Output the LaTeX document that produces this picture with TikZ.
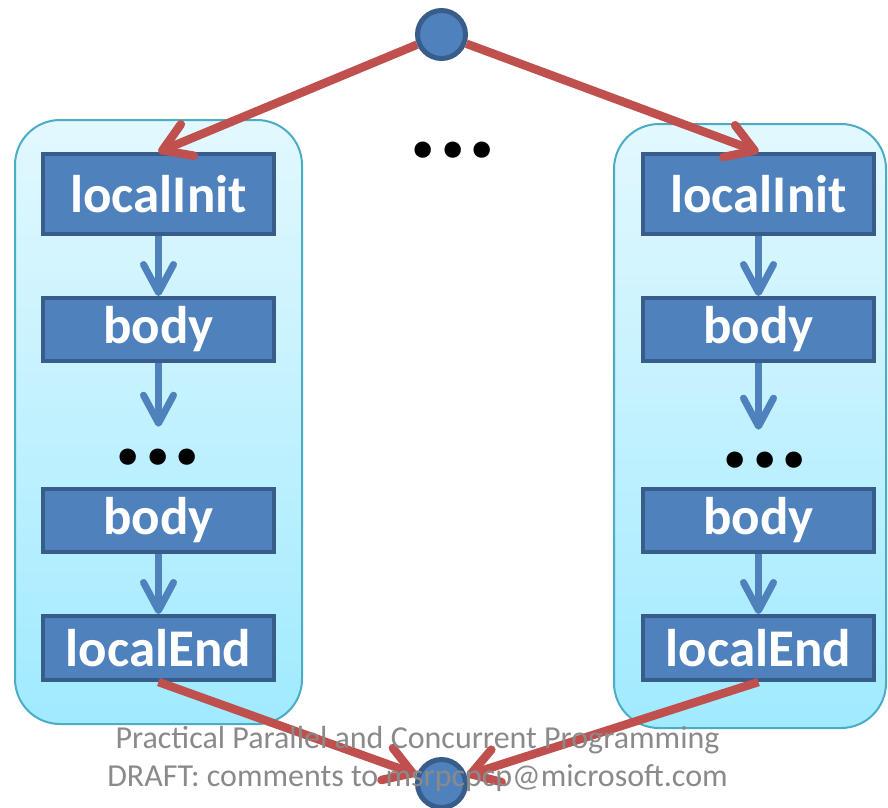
\documentclass[tikz,border=0pt]{standalone}
\usepackage{fontspec}
\setmainfont{Carlito}
\usetikzlibrary{arrows.meta}
\definecolor{boxfill}{HTML}{4F81BD}
\definecolor{boxline}{HTML}{385D8A}
\definecolor{redline}{HTML}{C0504D}
\definecolor{contline}{HTML}{4BACC6}
\definecolor{conttop}{HTML}{E2F8FE}
\definecolor{contbot}{HTML}{A0EAFF}
\definecolor{footgray}{HTML}{8A8A8A}
\tikzset{
  container/.style={draw=contline, line width=2pt, rounded corners=45pt,
    top color=conttop, bottom color=contbot, inner sep=0pt},
  stepbox/.style={draw=boxline, fill=boxfill, line width=4pt, minimum width=231pt,
    text=white, font=\bfseries\fontsize{53}{60}\selectfont, inner sep=0pt},
  joint/.style={circle, draw=boxline, fill=boxfill, line width=5pt, minimum size=48pt, inner sep=0pt},
  dotsnode/.style={font=\bfseries\fontsize{110}{110}\selectfont, inner sep=0pt},
  bluearrow/.style={draw=boxfill, line width=7pt,
    -{Straight Barb[length=28pt,width=30pt,round]}},
  redarrow/.style={draw=redline, line width=8.5pt,
    -{Straight Barb[length=27pt,width=34pt,round]}},
  foot/.style={text=footgray, font=\fontsize{32}{37}\selectfont, inner sep=0pt}
}
\begin{document}
\begin{tikzpicture}[x=1pt,y=-1pt]
\useasboundingbox (0,0) rectangle (888,807);
% containers
\node[container, minimum width=287pt, minimum height=604pt] (contL) at (158.5,422) {};
\node[container, minimum width=272pt, minimum height=604pt] (contR) at (750,426) {};
% left column
\node[stepbox, minimum height=80pt] (initL) at (158.5,194) {localInit};
\node[stepbox, minimum height=63pt] (bodyAL) at (158.5,329.5) {body};
\node[dotsnode] (dotsL) at (158,457) {...};
\node[stepbox, minimum height=63pt] (bodyBL) at (158.5,520.5) {body};
\node[stepbox, minimum height=64pt] (endL) at (158.5,648) {localEnd};
% right column
\node[stepbox, minimum height=80pt] (initR) at (758.5,194) {localInit};
\node[stepbox, minimum height=63pt] (bodyAR) at (758.5,329.5) {body};
\node[dotsnode] (dotsR) at (765,460) {...};
\node[stepbox, minimum height=63pt] (bodyBR) at (758.5,520.5) {body};
\node[stepbox, minimum height=64pt] (endR) at (758.5,648) {localEnd};
% middle dots
\node[dotsnode] (dotsM) at (453,150) {...};
% fork / join
\node[joint] (fork) at (441.5,34.5) {};
\node[joint] (join) at (441.5,783.5) {};
% blue arrows
\draw[bluearrow] (initL) -- (bodyAL);
\draw[bluearrow, shorten >=22pt] (bodyAL) -- (bodyAL.south |- dotsL.north);
\draw[bluearrow] (bodyBL) -- (endL);
\draw[bluearrow] (initR) -- (bodyAR);
\draw[bluearrow, shorten >=22pt] (bodyAR) -- (bodyAR.south |- dotsR.north);
\draw[bluearrow] (bodyBR) -- (endR);
% red arrows
\draw[redarrow] (fork) -- (initL.north);
\draw[redarrow] (fork) -- (initR.north);
\draw[redarrow] (endL.south) -- (join);
\draw[redarrow] (endR.south) -- (join);
% footer
\node[foot] (foot1) at (417.5,740) {Practical Parallel and Concurrent Programming};
\node[foot] (foot2) at (417.5,778) {DRAFT: comments to msrpcpcp@microsoft.com};
\end{tikzpicture}
\end{document}
